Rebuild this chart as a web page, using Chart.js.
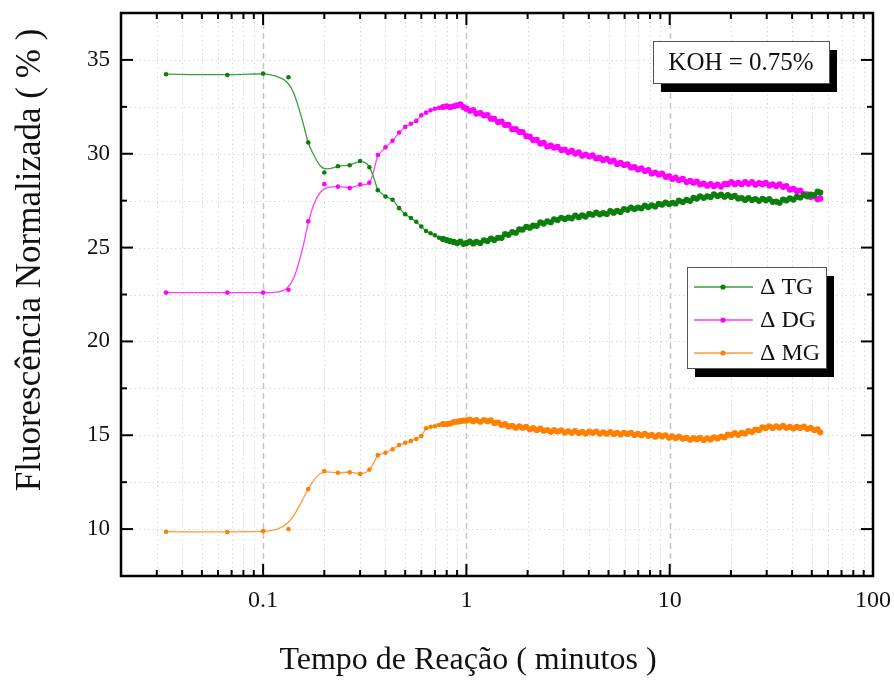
<!DOCTYPE html>
<html>
<head>
<meta charset="utf-8">
<script src="https://cdn.jsdelivr.net/npm/chart.js@4.4.1/dist/chart.umd.min.js"></script>
<style>
  html, body { margin: 0; padding: 0; background: #ffffff; }
  #wrap { width: 894px; height: 684px; }
</style>
</head>
<body>
<div id="wrap"><canvas id="chart" width="894" height="684"></canvas></div>
<script>
// Reaction time (minutes) of each sample
const times = [0.0333,0.0667,0.1,0.1333,0.1667,0.2,0.2333,0.2667,0.3,0.3333,0.3667,0.4,0.4333,0.4667,0.5,0.5333,0.5667,0.6,0.6333,0.6667,0.7,0.7333,0.7667,0.8,0.8333,0.8667,0.9,0.9333,0.9667,1.0,
  1.04,1.08,1.12,1.17,1.22,1.27,1.32,1.37,1.43,1.49,1.55,1.61,1.68,1.75,1.82,1.89,1.97,2.05,2.13,2.22,
  2.31,2.4,2.5,2.6,2.7,2.81,2.93,3.05,3.17,3.3,3.43,3.57,3.71,3.86,4.02,4.18,4.35,4.53,4.71,4.9,
  5.1,5.3,5.51,5.73,5.96,6.2,6.45,6.71,6.98,7.26,7.55,7.85,8.16,8.49,8.83,9.18,9.55,9.93,10.3,10.7,
  11.1,11.6,12.1,12.6,13.1,13.6,14.1,14.7,15.3,15.9,16.5,17.2,17.9,18.6,19.3,20.1,20.9,21.7,22.6,23.5,
  24.4,25.4,26.4,27.5,28.6,29.7,30.9,32.1,33.4,34.7,36.1,37.5,39,40.6,42.2,43.9,45.7,47.5,49.4,51.4,
  53.4,55];

// Normalised fluorescence (%) – triglycerides
const tg = [34.24,34.20,34.27,34.08,30.60,29.00,29.33,29.39,29.61,29.28,28.06,27.72,27.55,27.10,26.78,26.58,26.38,26.12,25.88,25.76,25.66,25.52,25.46,25.40,25.34,25.30,25.24,25.32,25.20,25.24,
  25.32,25.22,25.31,25.24,25.39,25.35,25.48,25.41,25.52,25.52,
  25.72,25.68,25.82,25.79,25.97,25.96,26.11,26.06,26.17,26.16,
  26.34,26.28,26.40,26.35,26.51,26.47,26.59,26.52,26.60,26.56,
  26.71,26.62,26.72,26.65,26.80,26.75,26.86,26.77,26.84,26.79,
  26.94,26.86,26.96,26.90,27.05,27.01,27.13,27.05,27.13,27.09,
  27.24,27.16,27.25,27.19,27.33,27.29,27.40,27.32,27.39,27.35,
  27.50,27.43,27.54,27.49,27.65,27.61,27.73,27.65,27.73,27.69,
  27.84,27.75,27.82,27.71,27.80,27.70,27.76,27.62,27.64,27.54,
  27.64,27.53,27.59,27.49,27.60,27.52,27.59,27.44,27.45,27.39,
  27.56,27.51,27.62,27.56,27.71,27.67,27.80,27.73,27.82,27.80,
  27.98,27.93];

// Diglycerides
const dg = [22.60,22.60,22.60,22.75,26.40,28.38,28.25,28.17,28.36,28.46,29.93,30.34,30.69,31.13,31.43,31.60,31.75,32.05,32.19,32.32,32.40,32.45,32.49,32.53,32.49,32.53,32.58,32.63,32.49,32.40,
  32.29,32.33,32.14,32.17,32.05,32.06,31.87,31.86,31.69,31.71,
  31.53,31.54,31.31,31.31,31.17,31.16,30.94,30.91,30.73,30.74,
  30.55,30.58,30.39,30.43,30.33,30.37,30.20,30.22,30.09,30.15,
  30.01,30.07,29.90,29.96,29.86,29.91,29.75,29.78,29.66,29.73,
  29.59,29.64,29.46,29.51,29.40,29.44,29.27,29.29,29.16,29.22,
  29.08,29.13,28.95,29.00,28.90,28.94,28.77,28.79,28.66,28.73,
  28.60,28.66,28.49,28.55,28.46,28.52,28.37,28.41,28.30,28.38,
  28.27,28.36,28.25,28.39,28.38,28.49,28.38,28.45,28.38,28.49,
  28.40,28.49,28.35,28.44,28.38,28.45,28.31,28.37,28.28,28.37,
  28.24,28.28,28.09,28.13,28.02,28.04,27.85,27.84,27.69,27.73,
  27.57,27.62];

// Monoglycerides
const mg = [9.86,9.84,9.89,10.00,12.13,13.09,13.00,13.03,12.94,13.17,13.94,14.07,14.25,14.48,14.60,14.70,14.80,14.96,15.37,15.45,15.48,15.55,15.60,15.60,15.62,15.70,15.72,15.75,15.78,15.78,
  15.84,15.75,15.81,15.72,15.81,15.75,15.80,15.65,15.68,15.55,
  15.59,15.47,15.50,15.40,15.47,15.40,15.45,15.32,15.38,15.28,
  15.35,15.24,15.28,15.18,15.27,15.20,15.26,15.14,15.21,15.13,
  15.22,15.12,15.18,15.09,15.19,15.13,15.20,15.08,15.16,15.08,
  15.17,15.07,15.13,15.04,15.13,15.07,15.13,15.01,15.08,15.00,
  15.08,14.97,15.02,14.92,15.01,14.94,15.00,14.87,14.94,14.85,
  14.93,14.82,14.86,14.76,14.85,14.79,14.86,14.75,14.84,14.78,
  14.89,14.83,14.93,14.89,15.03,15.01,15.11,15.02,15.13,15.09,
  15.22,15.18,15.30,15.28,15.42,15.39,15.48,15.39,15.48,15.41,
  15.50,15.40,15.45,15.36,15.45,15.39,15.46,15.34,15.39,15.28,
  15.31,15.16];

// Smoothed trend over the first sparse samples
const curveTimes = [0.0333,0.05,0.0667,0.085,0.1,0.1165,0.1313,0.1419,0.156,0.1667,0.1775,0.1914,0.2069,0.2333,0.2667,0.3,0.3333,0.3667];
const tgCurve = [34.24,34.22,34.22,34.24,34.26,34.12,33.81,33.20,31.78,30.60,29.93,29.35,29.19,29.33,29.41,29.58,29.30,28.06];
const dgCurve = [22.60,22.60,22.60,22.60,22.60,22.63,22.85,23.40,24.90,26.30,27.30,27.95,28.20,28.25,28.20,28.33,28.46,29.93];
const mgCurve = [9.86,9.85,9.85,9.86,9.88,9.98,10.30,10.74,11.54,12.13,12.60,12.96,13.05,13.00,13.03,12.96,13.17,13.94];

const seriesNames = ['\u0394 TG', '\u0394 DG', '\u0394 MG'];
const xTickValues = [0.1, 1, 10, 100];
const yTickValues = [10, 15, 20, 25, 30, 35];
const xTitle = 'Tempo de Rea\u00e7\u00e3o ( minutos )';
const yTitle = 'Fluoresc\u00eancia Normalizada ( % )';
const noteText = 'KOH = 0.75%';

const SERIF = '"Liberation Serif", "Times New Roman", serif';
const styles = [
  { point: '#0b7f0b', line: '#3d9d3d' },
  { point: '#ff00ff', line: '#ff3cff' },
  { point: '#ff8000', line: '#ff9a3a' }
];
const SMOOTH_END = 0.36;   // the sparse start is drawn by the trend curve
const DENSE_FROM = 0.75;   // overlapping samples form a continuous band

function pairs(xs, ys) { return xs.map((t, i) => ({ x: t, y: ys[i] })); }

const values = [tg, dg, mg];
const curves = [tgCurve, dgCurve, mgCurve];
const datasets = [];
values.forEach((v, i) => {
  datasets.push({
    label: seriesNames[i],
    data: pairs(times, v),
    showLine: true,
    borderColor: styles[i].line,
    borderWidth: 1.2,
    backgroundColor: styles[i].point,
    pointBackgroundColor: styles[i].point,
    pointBorderColor: styles[i].point,
    pointBorderWidth: 0,
    pointRadius: ctx => (ctx.raw && ctx.raw.x >= DENSE_FROM ? 3.1 : 2.3),
    tension: 0,
    segment: {
      borderColor: ctx => (ctx.p0.parsed.x < SMOOTH_END ? 'rgba(0,0,0,0)' : styles[i].line)
    }
  });
  datasets.push({
    label: seriesNames[i] + ' trend',
    data: pairs(curveTimes, curves[i]),
    showLine: true,
    borderColor: styles[i].line,
    borderWidth: 1.3,
    pointRadius: 0,
    cubicInterpolationMode: 'monotone'
  });
});

function gridAndFrame(chart, stage) {
  const { ctx, chartArea: a, scales: { x, y } } = chart;
  const xVals = [];
  for (let e = -2; e <= 1; e++) {
    for (let m = 1; m <= 9; m++) {
      const v = +(m * Math.pow(10, e)).toPrecision(3);
      if (v > 0.02 && v < 100) xVals.push({ v, major: m === 1 });
    }
  }
  const yVals = [];
  for (let v = 10; v <= 35; v += 2.5) yVals.push({ v, major: v % 5 === 0 });

  ctx.save();
  if (stage === 'grid') {
    xVals.forEach(({ v, major }) => {
      const px = Math.round(x.getPixelForValue(v)) + 0.5;
      ctx.beginPath();
      if (major) { ctx.strokeStyle = '#c4c4c4'; ctx.lineWidth = 1.5; ctx.setLineDash([6, 4]); }
      else { ctx.strokeStyle = '#d8d8d8'; ctx.lineWidth = 1; ctx.setLineDash([1.5, 3]); }
      ctx.moveTo(px, a.top); ctx.lineTo(px, a.bottom); ctx.stroke();
    });
    yVals.forEach(({ v }) => {
      const py = Math.round(y.getPixelForValue(v)) + 0.5;
      ctx.beginPath();
      ctx.strokeStyle = '#d8d8d8'; ctx.lineWidth = 1; ctx.setLineDash([1.5, 3]);
      ctx.moveTo(a.left, py); ctx.lineTo(a.right, py); ctx.stroke();
    });
  } else {
    ctx.setLineDash([]);
    ctx.strokeStyle = '#000';
    ctx.lineWidth = 2;
    const seg = (x1, y1, x2, y2) => { ctx.beginPath(); ctx.moveTo(x1, y1); ctx.lineTo(x2, y2); ctx.stroke(); };
    xVals.forEach(({ v, major }) => {
      const px = x.getPixelForValue(v), len = major ? 12 : 6;
      seg(px, a.bottom, px, a.bottom - len);
      seg(px, a.top, px, a.top + len);
    });
    yVals.forEach(({ v, major }) => {
      const py = y.getPixelForValue(v), len = major ? 12 : 6;
      seg(a.left, py, a.left + len, py);
      seg(a.right, py, a.right - len, py);
    });
    ctx.lineWidth = 2.5;
    ctx.strokeRect(a.left, a.top, a.right - a.left, a.bottom - a.top);
  }
  ctx.restore();
}

function shadowBox(ctx, bx, by, w, h) {
  ctx.fillStyle = '#000';
  ctx.fillRect(bx + 8, by + 9, w, h);
  ctx.fillStyle = '#fff';
  ctx.fillRect(bx, by, w, h);
  ctx.strokeStyle = '#555';
  ctx.lineWidth = 1;
  ctx.strokeRect(bx + 0.5, by + 0.5, w, h);
}

const decorations = {
  id: 'decorations',
  beforeDatasetsDraw(chart) { gridAndFrame(chart, 'grid'); },
  afterDraw(chart) {
    const { ctx } = chart;
    gridAndFrame(chart, 'frame');
    ctx.save();
    // annotation box
    shadowBox(ctx, 653, 41, 176, 42);
    ctx.fillStyle = '#111';
    ctx.font = '25px ' + SERIF;
    ctx.textAlign = 'center';
    ctx.textBaseline = 'middle';
    ctx.fillText(noteText, 741, 63);

    // legend
    shadowBox(ctx, 687, 267, 139, 101);
    const rows = [287, 320, 353];
    ctx.textAlign = 'left';
    ctx.font = '24px ' + SERIF;
    seriesNames.forEach((name, i) => {
      const ry = rows[i];
      ctx.strokeStyle = styles[i].line;
      ctx.lineWidth = 1.3;
      ctx.beginPath(); ctx.moveTo(694, ry); ctx.lineTo(753, ry); ctx.stroke();
      ctx.fillStyle = styles[i].point;
      ctx.beginPath(); ctx.arc(723, ry, 2.6, 0, Math.PI * 2); ctx.fill();
      ctx.fillStyle = '#111';
      ctx.fillText(name, 760, ry + 1);
    });

    // axis titles
    ctx.fillStyle = '#111';
    ctx.textAlign = 'center';
    ctx.textBaseline = 'middle';
    ctx.font = '32px ' + SERIF;
    ctx.fillText(xTitle, 468, 661);
    ctx.font = '35px ' + SERIF;
    ctx.translate(31, 260);
    ctx.rotate(-Math.PI / 2);
    ctx.fillText(yTitle, 0, 0);
    ctx.restore();
  }
};

// label overflow must not shrink the plot frame
function noOverflow(s) {
  s.paddingTop = 0; s.paddingBottom = 0; s.paddingLeft = 0; s.paddingRight = 0;
}

new Chart(document.getElementById('chart'), {
  type: 'scatter',
  data: { datasets },
  options: {
    responsive: false,
    animation: false,
    devicePixelRatio: 1,
    layout: { autoPadding: false, padding: { left: 0, right: 21, top: 13, bottom: 0 } },
    plugins: { legend: { display: false }, tooltip: { enabled: false } },
    scales: {
      x: {
        type: 'logarithmic',
        min: 0.02,
        max: 100,
        grid: { display: false, drawTicks: false },
        border: { display: false },
        afterBuildTicks: s => { s.ticks = xTickValues.map(v => ({ value: v })); },
        afterFit: s => { s.height = 108; noOverflow(s); },
        ticks: {
          autoSkip: false,
          maxRotation: 0,
          padding: 10,
          color: '#111',
          font: { family: SERIF, size: 24 },
          callback: v => String(v)
        }
      },
      y: {
        type: 'linear',
        min: 7.5,
        max: 37.5,
        grid: { display: false, drawTicks: false },
        border: { display: false },
        afterBuildTicks: s => { s.ticks = yTickValues.map(v => ({ value: v })); },
        afterFit: s => { s.width = 121; noOverflow(s); },
        ticks: {
          padding: 11,
          color: '#111',
          font: { family: SERIF, size: 23 },
          callback: v => String(v)
        }
      }
    }
  },
  plugins: [decorations]
});
</script>
</body>
</html>
